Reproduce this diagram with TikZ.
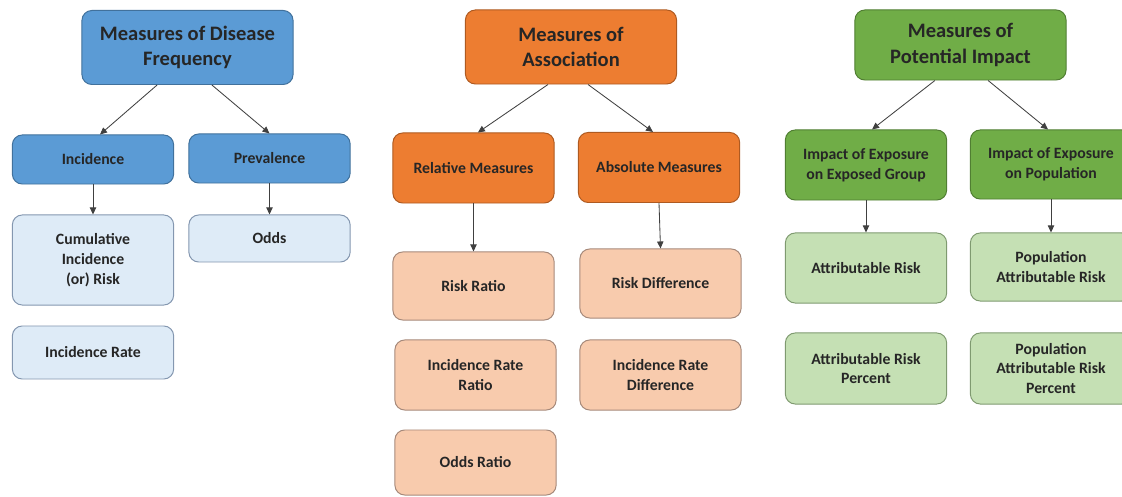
\documentclass[tikz,border=0pt]{standalone}
\usepackage{fontspec}
\setmainfont{Carlito}
\usetikzlibrary{arrows.meta}

% palette
\definecolor{freqdark}{HTML}{5B9BD5}
\definecolor{freqline}{HTML}{41719C}
\definecolor{freqlight}{HTML}{DEEBF7}
\definecolor{freqleafline}{HTML}{8497B0}
\definecolor{assocdark}{HTML}{ED7D31}
\definecolor{assocline}{HTML}{AE5A21}
\definecolor{assoclight}{HTML}{F8CBAD}
\definecolor{assocleafline}{HTML}{A6897A}
\definecolor{impdark}{HTML}{70AD47}
\definecolor{impline}{HTML}{507E32}
\definecolor{implight}{HTML}{C5E0B4}
\definecolor{impleafline}{HTML}{7F9A70}
\definecolor{inkgray}{HTML}{262626}

\tikzset{
  box/.style={draw, line width=0.7pt, rounded corners=7pt, align=center,
    inner sep=2pt, text=inkgray},
  head/.style={box, minimum width=5.275cm, minimum height=1.85cm,
    font=\fontsize{14.6}{18}\selectfont\bfseries},
  sub/.style={box, minimum width=4.03cm,
    font=\fontsize{11.2}{14}\selectfont\bfseries},
  link/.style={draw=black!75, line width=0.6pt,
    -{Triangle[length=5pt,width=4.5pt]}},
}

\begin{document}
\begin{tikzpicture}[x=0.025cm,y=-0.025cm]
            \useasboundingbox (0,0) rectangle (1122,497);
            \clip (0,0) rectangle (1122,497);

            % Disease frequency
            \node[head, fill=freqdark, draw=freqline] (dfreq) at (187.5,47.5) {Measures of Disease\\Frequency};
            \node[sub, fill=freqdark, draw=freqline, minimum height=1.225cm] (incid) at (93,159.5) {Incidence};
            \node[sub, fill=freqdark, draw=freqline, minimum height=1.225cm] (preval) at (269.5,158.5) {Prevalence};
            \node[sub, fill=freqlight, draw=freqleafline, minimum height=2.25cm] (cumrisk) at (93,260) {Cumulative\\Incidence\\(or) Risk};
            \node[sub, fill=freqlight, draw=freqleafline, minimum height=1.175cm] (odds) at (269.5,238.5) {Odds};
            \node[sub, fill=freqlight, draw=freqleafline, minimum height=1.325cm] (incrate) at (93,352.5) {Incidence Rate};

            \draw[link] ([xshift=-0.76cm]dfreq.south) -- ([xshift=0.175cm]incid.north);
            \draw[link] ([xshift=0.61cm]dfreq.south) -- (preval.north);
            \draw[link] (incid) -- (cumrisk);
            \draw[link] (preval) -- (odds);

            % Association
            \node[head, fill=assocdark, draw=assocline] (assoc) at (571,47) {Measures of\\Association};
            \node[sub, fill=assocdark, draw=assocline, minimum height=1.75cm] (relmeas) at (473.5,168) {Relative Measures};
            \node[sub, fill=assocdark, draw=assocline, minimum height=1.75cm] (absmeas) at (659,167.5) {Absolute Measures};
            \node[sub, fill=assoclight, draw=assocleafline, minimum height=1.7cm] (rratio) at (473.5,286) {Risk Ratio};
            \node[sub, fill=assoclight, draw=assocleafline, minimum height=1.725cm] (rdiff) at (660.5,283.5) {Risk Difference};
            \node[sub, fill=assoclight, draw=assocleafline, minimum height=1.75cm] (irratio) at (475.5,375) {Incidence Rate\\Ratio};
            \node[sub, fill=assoclight, draw=assocleafline, minimum height=1.75cm] (irdiff) at (660.5,375) {Incidence Rate\\Difference};
            \node[sub, fill=assoclight, draw=assocleafline, minimum height=1.625cm] (oratio) at (475.5,462.5) {Odds Ratio};

            \draw[link] ([xshift=-0.575cm]assoc.south) -- ([xshift=0.11cm]relmeas.north);
            \draw[link] ([xshift=0.425cm]assoc.south) -- ([xshift=-0.15cm]absmeas.north);
            \draw[link] (relmeas) -- (rratio);
            \draw[link] (absmeas.south) -- (rdiff.north);

            % Potential impact
            \node[head, fill=impdark, draw=impline, minimum height=1.75cm] (impact) at (960.5,45) {Measures of\\Potential Impact};
            \node[sub, fill=impdark, draw=impline, minimum height=1.75cm] (expgrp) at (866,165) {Impact of Exposure\\on Exposed Group};
            \node[sub, fill=impdark, draw=impline, minimum height=1.725cm] (exppop) at (1051,164.5) {Impact of Exposure\\on Population};
            \node[sub, fill=implight, draw=impleafline, minimum height=1.75cm] (attrisk) at (866,268) {Attributable Risk};
            \node[sub, fill=implight, draw=impleafline, minimum height=1.7cm] (popattr) at (1051,267) {Population\\Attributable Risk};
            \node[sub, fill=implight, draw=impleafline, minimum height=1.775cm] (attpct) at (866,368.5) {Attributable Risk\\Percent};
            \node[sub, fill=implight, draw=impleafline, minimum height=1.775cm] (poppct) at (1051,368.5) {Population\\Attributable Risk\\Percent};

            \draw[link] ([xshift=-0.64cm]impact.south) -- ([xshift=0.15cm]expgrp.north);
            \draw[link] ([xshift=0.69cm]impact.south) -- ([xshift=-0.075cm]exppop.north);
            \draw[link] (expgrp) -- (attrisk);
            \draw[link] (exppop) -- (popattr);
\end{tikzpicture}
\end{document}
